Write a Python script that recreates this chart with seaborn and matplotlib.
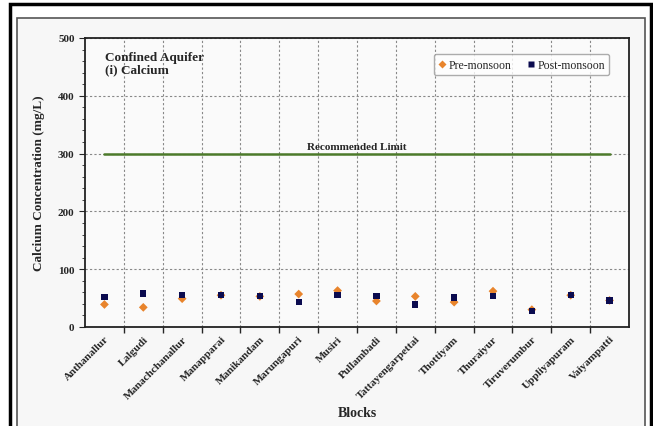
import pandas as pd
import seaborn as sns
import matplotlib.pyplot as plt
from matplotlib.patches import Rectangle

# data
blocks = ["Anthanallur", "Lalgudi", "Manachchanallur", "Manapparai", "Manikandam",
          "Marungapuri", "Musiri", "Pullambadi", "Tattayengarpettai", "Thottiyam",
          "Thuraiyur", "Tiruverumbur", "Uppliyapuram", "Vaiyampatti"]
pre_monsoon = [39, 34, 49, 55, 53, 57, 63, 45, 53, 43, 62, 30, 55, 46]
post_monsoon = [52, 58, 56, 55, 53, 43, 55, 54, 39, 51, 53, 27, 55, 46]
limit = 300

df = pd.concat([
    pd.DataFrame({"Block": blocks, "Ca": pre_monsoon, "Season": "Pre-monsoon"}),
    pd.DataFrame({"Block": blocks, "Ca": post_monsoon, "Season": "Post-monsoon"}),
])

sns.set_style("ticks")
plt.rcParams["font.family"] = ["Liberation Serif", "DejaVu Serif"]
plt.rcParams["font.weight"] = "bold"

fig = plt.figure(figsize=(6.53, 4.27), dpi=100)
W, H = 653, 427

# outer black border and inner grey chart frame (behind the axes)
fig.patches.append(Rectangle((10 / W, -0.05), 641 / W, 1 - 5 / H + 0.05,
                             transform=fig.transFigure, fill=False,
                             edgecolor="black", linewidth=2.5, zorder=-2))
fig.patches.append(Rectangle((17 / W, -0.05), 628 / W, 1 - 19 / H + 0.05,
                             transform=fig.transFigure, facecolor="#f7f7f7",
                             edgecolor="#555555", linewidth=1.2, zorder=-3))

ax = fig.add_axes([85 / W, 1 - 328 / H, 544 / W, 289 / H])
ax.set_facecolor("#fafafa")

sns.scatterplot(data=df, x="Block", y="Ca", hue="Season", style="Season",
                palette={"Pre-monsoon": "#e8842c", "Post-monsoon": "#0b0b4f"},
                markers={"Pre-monsoon": "D", "Post-monsoon": "s"},
                hue_order=["Pre-monsoon", "Post-monsoon"],
                s=32, edgecolor="none", ax=ax, zorder=3)
# pre-monsoon diamonds are a little smaller than the squares
ax.collections[0].set_sizes([20])

ax.plot([blocks[0], blocks[-1]], [limit, limit], color="#4c7a2a", linewidth=1.8, zorder=2)
ax.text(6.5, limit + 4, "Recommended Limit", ha="center", va="bottom",
        fontsize=8, fontweight="bold")

ax.text(0.037, 0.955, "Confined Aquifer\n(i) Calcium", transform=ax.transAxes,
        ha="left", va="top", fontsize=9.5, fontweight="bold", linespacing=1.05)

ax.set_xlim(-0.5, len(blocks) - 0.5)
ax.set_ylim(0, 500)
ax.set_yticks(range(0, 501, 100))
ax.set_yticks(range(0, 501, 20), minor=True)
ax.set_xticks([i - 0.5 for i in range(1, len(blocks))], minor=True)
ax.set_xticks(range(len(blocks)))
ax.set_xticklabels(blocks, rotation=45, ha="right", rotation_mode="anchor",
                   fontsize=8, fontweight="bold")
ax.tick_params(axis="x", which="major", length=0, pad=5)
ax.tick_params(axis="x", which="minor", length=4, width=1)
ax.tick_params(axis="y", which="major", length=4, labelsize=8)
ax.tick_params(axis="y", which="minor", length=2)
for lab in ax.get_yticklabels():
    lab.set_fontweight("bold")

ax.grid(axis="y", which="major", linestyle=(0, (2, 2)), color="#888888", linewidth=0.8)
ax.grid(axis="x", which="minor", linestyle=(0, (2, 2)), color="#888888", linewidth=0.8)
ax.grid(axis="x", which="major", visible=False)
for sp in ax.spines.values():
    sp.set_linewidth(1.3)
    sp.set_color("#222222")

ax.set_xlabel("Blocks", fontsize=10, fontweight="bold", labelpad=4)
ax.set_ylabel("Calcium Concentration (mg/L)", fontsize=9.5, fontweight="bold", labelpad=9)

leg = ax.legend(loc="upper right", bbox_to_anchor=(0.975, 0.965), ncol=2, fontsize=8.5,
                frameon=True, handlelength=0.6, handletextpad=0.2, columnspacing=1.4,
                borderpad=0.4, markerscale=0.7, title=None)
leg.get_frame().set_edgecolor("#999999")
leg.get_frame().set_facecolor("white")
for t in leg.get_texts():
    t.set_fontweight("normal")

fig.savefig("out.png", dpi=100)
